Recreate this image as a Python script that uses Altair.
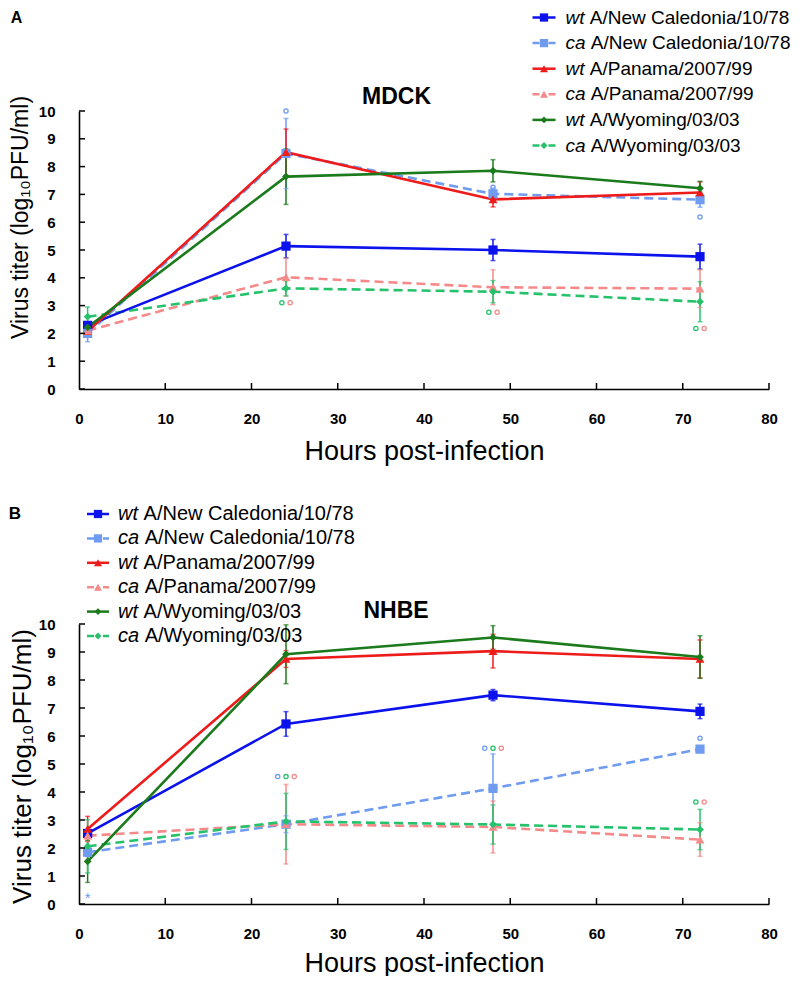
import altair as alt
import pandas as pd

FONT = "Liberation Sans"

# ---------------- data ----------------
times = [1, 24, 48, 72]
series_keys = ["wt_nc", "ca_nc", "wt_pan", "ca_pan", "wt_wy", "ca_wy"]
prefixes = ["wt", "ca", "wt", "ca", "wt", "ca"]
strains = ["A/New Caledonia/10/78", "A/New Caledonia/10/78",
           "A/Panama/2007/99", "A/Panama/2007/99",
           "A/Wyoming/03/03", "A/Wyoming/03/03"]
colors = ["#0b12ec", "#6f9bf0", "#ee1b1b", "#f58a8a", "#1b7a1b", "#25c26b"]
shapes = ["square", "square", "triangle-up", "triangle-up", "diamond", "diamond"]
marker_sizes = [85, 85, 80, 80, 60, 60]
dashed = [False, True, False, True, False, True]

# MDCK (panel A)
mdck_wt_nc = [2.29, 5.14, 5.00, 4.76]
mdck_ca_nc = [2.00, 8.47, 7.02, 6.81]
mdck_wt_pan = [2.08, 8.52, 6.82, 7.07]
mdck_ca_pan = [2.10, 4.02, 3.66, 3.61]
mdck_wt_wy = [2.22, 7.64, 7.85, 7.22]
mdck_ca_wy = [2.60, 3.62, 3.50, 3.14]
mdck_wt_nc_err = [0.10, 0.42, 0.38, 0.45]
mdck_ca_nc_err = [0.30, 1.26, 0.20, 0.27]
mdck_wt_pan_err = [0.10, 0.83, 0.27, 0.38]
mdck_ca_pan_err = [0.10, 0.68, 0.63, 0.68]
mdck_wt_wy_err = [0.10, 1.00, 0.40, 0.25]
mdck_ca_wy_err = [0.35, 0.27, 0.40, 0.72]

# NHBE (panel B)
nhbe_wt_nc = [2.52, 6.43, 7.46, 6.88]
nhbe_ca_nc = [1.85, 2.85, 4.13, 5.53]
nhbe_wt_pan = [2.68, 8.75, 9.03, 8.75]
nhbe_ca_pan = [2.44, 2.85, 2.75, 2.30]
nhbe_wt_wy = [1.52, 8.92, 9.52, 8.82]
nhbe_ca_wy = [2.06, 2.95, 2.84, 2.66]
nhbe_wt_nc_err = [0.12, 0.44, 0.20, 0.26]
nhbe_ca_nc_err = [0.15, 0.30, 1.23, 0.10]
nhbe_wt_pan_err = [0.45, 0.30, 0.60, 0.68]
nhbe_ca_pan_err = [0.20, 1.42, 0.93, 0.60]
nhbe_wt_wy_err = [0.75, 1.05, 0.42, 0.76]
nhbe_ca_wy_err = [0.95, 1.00, 0.70, 0.72]

# significance marks ("o")
mdck_mark_t = [24, 24, 48, 48, 72, 72]
mdck_mark_y = [10.0, 3.10, 7.26, 2.76, 6.19, 2.18]
mdck_mark_series = [["ca_nc"], ["ca_wy", "ca_pan"], ["ca_nc"], ["ca_wy", "ca_pan"],
                    ["ca_nc"], ["ca_wy", "ca_pan"]]
nhbe_mark_t = [24, 48, 72, 72]
nhbe_mark_y = [4.55, 5.56, 5.92, 3.64]
nhbe_mark_series = [["ca_nc", "ca_wy", "ca_pan"], ["ca_nc", "ca_wy", "ca_pan"],
                    ["ca_nc"], ["ca_wy", "ca_pan"]]
nhbe_star_t = [1]
nhbe_star_y = [0.36]
nhbe_star_series = ["ca_nc"]

x_tick_values = [0, 10, 20, 30, 40, 50, 60, 70, 80]
y_tick_values = [0, 1, 2, 3, 4, 5, 6, 7, 8, 9, 10]
x_title = "Hours post-infection"
y_title = "Virus titer (log\u2081\u2080PFU/ml)"

W = 690
dummy = pd.DataFrame({"d": [0]})


def build_panel(means, errs, mark_t, mark_y, mark_series, star, cfg):
    H = cfg["height"]
    rows = []
    for i, key in enumerate(series_keys):
        for t, m, e in zip(times, means[i], errs[i]):
            rows.append({"series": key, "t": t, "v": m, "lo": m - e, "hi": m + e,
                         "color": colors[i], "shape": shapes[i],
                         "msize": marker_sizes[i], "dashed": dashed[i]})
    df = pd.DataFrame(rows)

    xsc = alt.Scale(domain=[0, 80], nice=False, zero=False)
    ysc = alt.Scale(domain=[0, 10], nice=False, zero=False)
    xaxis = alt.Axis(values=x_tick_values, title=x_title, grid=False, ticks=False,
                     domainColor="black", domainWidth=1.6,
                     labelFont=FONT, labelFontSize=cfg["tick_fs"], labelFontWeight="bold",
                     labelColor="black", labelPadding=cfg["xlab_pad"], labelFlush=False,
                     labelOverlap=False,
                     titleFont=FONT, titleFontSize=cfg["xt_fs"], titleFontWeight="normal",
                     titleColor="black", titlePadding=cfg["xt_pad"])
    yaxis = alt.Axis(values=y_tick_values, title=y_title, grid=False, ticks=False,
                     domainColor="black", domainWidth=1.6,
                     labelFont=FONT, labelFontSize=cfg["tick_fs"], labelFontWeight="bold",
                     labelColor="black", labelPadding=cfg["ylab_pad"], labelFlush=False,
                     labelOverlap=False,
                     titleFont=FONT, titleFontSize=cfg["yt_fs"], titleFontWeight="normal",
                     titleColor="black", titleAngle=270, titleX=cfg["yt_x"],
                     titleY=cfg["yt_y"], titleAlign="center", titleBaseline="top")
    X = alt.X("t:Q", scale=xsc, axis=xaxis)
    col = alt.Color("color:N", scale=None)

    base = alt.Chart(df)
    err = base.mark_rule(strokeWidth=1.5).encode(
        x=X, y=alt.Y("lo:Q", scale=ysc, axis=yaxis), y2="hi:Q", color=col)
    cap_lo = base.mark_tick(orient="horizontal", size=5, thickness=1.5).encode(
        x=X, y=alt.Y("lo:Q", scale=ysc, axis=yaxis), color=col)
    cap_hi = base.mark_tick(orient="horizontal", size=5, thickness=1.5).encode(
        x=X, y=alt.Y("hi:Q", scale=ysc, axis=yaxis), color=col)
    Y = alt.Y("v:Q", scale=ysc, axis=yaxis)
    line_solid = base.transform_filter("!datum.dashed").mark_line(strokeWidth=2.6).encode(
        x=X, y=Y, detail="series:N", color=col)
    line_dash = base.transform_filter("datum.dashed").mark_line(
        strokeWidth=2.6, strokeDash=[9, 5]).encode(x=X, y=Y, detail="series:N", color=col)
    pts = base.mark_point(filled=True, opacity=1).encode(
        x=X, y=Y, color=col,
        shape=alt.Shape("shape:N", scale=None),
        size=alt.Size("msize:Q", scale=None))

    # significance circles
    arows = []
    for t, yv, group in zip(mark_t, mark_y, mark_series):
        n = len(group)
        for k, key in enumerate(group):
            off = (k - (n - 1) / 2) * 0.96
            arows.append({"t": t + off, "v": yv, "color": colors[series_keys.index(key)]})
    adf = pd.DataFrame(arows)
    ann = alt.Chart(adf).mark_point(shape="circle", filled=False, size=18,
                                    strokeWidth=1.3, opacity=1).encode(x=X, y=Y, color=col)
    layers = [err, cap_lo, cap_hi, line_dash, line_solid, pts, ann]

    if star:
        sdf = pd.DataFrame({"t": star[0], "v": star[1],
                            "color": [colors[series_keys.index(s)] for s in star[2]]})
        layers.append(alt.Chart(sdf).mark_text(text="*", font=FONT, fontSize=15, dy=4)
                      .encode(x=X, y=Y, color=col))

    # inward axis ticks
    ytk = pd.DataFrame({"v": y_tick_values})
    layers.append(alt.Chart(ytk).mark_rule(color="black", strokeWidth=1.5).encode(
        y=Y, x=alt.value(0), x2=alt.value(6)))
    xtk = pd.DataFrame({"t": x_tick_values[1:]})
    layers.append(alt.Chart(xtk).mark_rule(color="black", strokeWidth=1.5).encode(
        x=X, y=alt.value(H), y2=alt.value(H - 6)))

    # manual legend
    for i in range(6):
        ly = cfg["leg_y0"] + i * cfg["leg_step"]
        rule_kw = dict(color=colors[i], strokeWidth=2.5)
        if dashed[i]:
            rule_kw["strokeDash"] = [7, 9]
        layers.append(alt.Chart(dummy).mark_rule(**rule_kw).encode(
            x=alt.value(cfg["leg_x1"]), x2=alt.value(cfg["leg_x2"]), y=alt.value(ly)))
        layers.append(alt.Chart(dummy).mark_point(
            shape=shapes[i], filled=True, opacity=1, color=colors[i],
            size=marker_sizes[i] * 0.8).encode(
            x=alt.value((cfg["leg_x1"] + cfg["leg_x2"]) / 2), y=alt.value(ly)))
        fs = cfg["leg_fs"]
        layers.append(alt.Chart(dummy).mark_text(
            text=prefixes[i], font=FONT, fontSize=fs, fontStyle="italic",
            align="left", baseline="middle", color="black").encode(
            x=alt.value(cfg["leg_tx"]), y=alt.value(ly)))
        pw = (1.0 if prefixes[i] == "wt" else 1.056) + 0.278
        layers.append(alt.Chart(dummy).mark_text(
            text=strains[i], font=FONT, fontSize=fs,
            align="left", baseline="middle", color="black").encode(
            x=alt.value(cfg["leg_tx"] + pw * fs), y=alt.value(ly)))

    # panel title and letter
    layers.append(alt.Chart(dummy).mark_text(
        text=cfg["title"], font=FONT, fontSize=cfg["title_fs"], fontWeight="bold",
        align="center", baseline="middle", color="black").encode(
        x=alt.value(cfg["title_x"]), y=alt.value(cfg["title_y"])))
    layers.append(alt.Chart(dummy).mark_text(
        text=cfg["letter"], font=FONT, fontSize=cfg["letter_fs"], fontWeight="bold",
        align="center", baseline="middle", color="black").encode(
        x=alt.value(cfg["letter_x"]), y=alt.value(cfg["letter_y"])))

    return alt.layer(*layers).properties(width=W, height=H)


mdck_means = [mdck_wt_nc, mdck_ca_nc, mdck_wt_pan, mdck_ca_pan, mdck_wt_wy, mdck_ca_wy]
mdck_errs = [mdck_wt_nc_err, mdck_ca_nc_err, mdck_wt_pan_err, mdck_ca_pan_err,
             mdck_wt_wy_err, mdck_ca_wy_err]
nhbe_means = [nhbe_wt_nc, nhbe_ca_nc, nhbe_wt_pan, nhbe_ca_pan, nhbe_wt_wy, nhbe_ca_wy]
nhbe_errs = [nhbe_wt_nc_err, nhbe_ca_nc_err, nhbe_wt_pan_err, nhbe_ca_pan_err,
             nhbe_wt_wy_err, nhbe_ca_wy_err]

top_cfg = dict(height=278, tick_fs=15, xt_fs=27, yt_fs=23, xlab_pad=22, xt_pad=12,
               ylab_pad=24, yt_x=-69.5, yt_y=106,
               leg_y0=-93.5, leg_step=25.6, leg_x1=453.5, leg_x2=476.5, leg_tx=486.5,
               leg_fs=19, title="MDCK", title_fs=23, title_x=317.5, title_y=-13.7,
               letter="A", letter_fs=16, letter_x=-62.5, letter_y=-93)
bot_cfg = dict(height=280, tick_fs=15, xt_fs=27, yt_fs=26, xlab_pad=22, xt_pad=9,
               ylab_pad=24, yt_x=-69.5, yt_y=142,
               leg_y0=-110, leg_step=24.4, leg_x1=8, leg_x2=30, leg_tx=39,
               leg_fs=20, title="NHBE", title_fs=23, title_x=317, title_y=-13,
               letter="B", letter_fs=17, letter_x=-64, letter_y=-110)

top = build_panel(mdck_means, mdck_errs, mdck_mark_t, mdck_mark_y, mdck_mark_series,
                  None, top_cfg)
bottom = build_panel(nhbe_means, nhbe_errs, nhbe_mark_t, nhbe_mark_y, nhbe_mark_series,
                     (nhbe_star_t, nhbe_star_y, nhbe_star_series), bot_cfg)

chart = alt.vconcat(top, bottom, spacing=235, bounds="flush").properties(
    padding=0).configure_view(stroke=None)

chart.save("out.html", embed_options={"renderer": "svg", "actions": False})
